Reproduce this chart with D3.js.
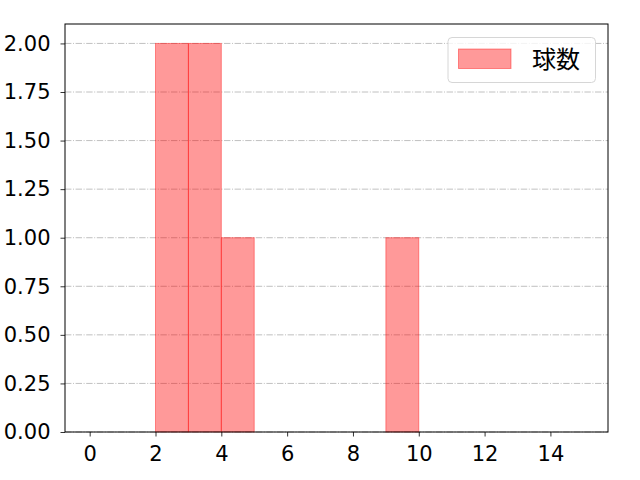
<!DOCTYPE html>
<html>
<head>
<meta charset="utf-8">
<script src="https://cdn.jsdelivr.net/npm/d3@7.9.0/dist/d3.min.js"></script>
<style>
  html, body { margin: 0; padding: 0; background: #fff; }
  svg { display: block; }
  text { font-family: "Noto Sans CJK JP", "Noto Sans", sans-serif; }
</style>
</head>
<body>
<svg id="chart" width="640" height="480"></svg>
<script>
// histogram bins (width 1) and their counts
const binStarts = [0, 1, 2, 3, 4, 5, 6, 7, 8, 9, 10, 11, 12, 13, 14];
const counts = [0, 0, 2, 2, 1, 0, 0, 0, 0, 1, 0, 0, 0, 0, 0];
const xTicks = [0, 2, 4, 6, 8, 10, 12, 14];
const yTicks = [0, 0.25, 0.5, 0.75, 1.0, 1.25, 1.5, 1.75, 2.0];
const seriesName = '球数';

const margin = { top: 24, right: 32, bottom: 48, left: 65 };
const width = 640 - margin.left - margin.right;
const height = 480 - margin.top - margin.bottom;

const svg = d3.select('#chart');
const g = svg.append('g').attr('transform', `translate(${margin.left},${margin.top})`);

const x = d3.scaleLinear().domain([-0.75, 15.75]).range([0, width]);
const y = d3.scaleLinear().domain([0, 2.1]).range([height, 0]);

// grid lines
g.append('g')
  .selectAll('line')
  .data(yTicks)
  .join('line')
  .attr('x1', 0)
  .attr('x2', width)
  .attr('y1', (d) => y(d))
  .attr('y2', (d) => y(d))
  .attr('stroke', '#b0b0b0')
  .attr('stroke-width', 0.8)
  .attr('stroke-dasharray', '6.4,1.6,1,1.6');

const bins = binStarts
  .map((s, i) => ({ x0: s, x1: s + 1, n: counts[i] }))
  .filter((d) => d.n > 0);

g.append('g')
  .selectAll('rect')
  .data(bins)
  .join('rect')
  .attr('x', (d) => x(d.x0))
  .attr('width', (d) => x(d.x1) - x(d.x0))
  .attr('y', (d) => y(d.n))
  .attr('height', (d) => y(0) - y(d.n))
  .attr('fill', 'red')
  .attr('fill-opacity', 0.4)
  .attr('stroke', 'red')
  .attr('stroke-opacity', 0.4)
  .attr('stroke-width', 1);

const xAxis = g.append('g')
  .attr('transform', `translate(0,${height})`)
  .call(d3.axisBottom(x).tickValues(xTicks).tickSize(4.5).tickPadding(9.5).tickFormat(d3.format('d')));
const yAxis = g.append('g')
  .call(d3.axisLeft(y).tickValues(yTicks).tickSize(4.5).tickPadding(10).tickFormat(d3.format('.2f')));

[xAxis, yAxis].forEach((a) => {
  a.select('.domain').remove();
  a.selectAll('.tick line').attr('stroke', '#000').attr('stroke-width', 0.8);
  a.selectAll('.tick text')
    .attr('fill', '#000')
    .style('font-size', '21px')
    .style('font-family', '"DejaVu Sans", sans-serif');
});

// frame
g.append('rect')
  .attr('width', width)
  .attr('height', height)
  .attr('fill', 'none')
  .attr('stroke', '#000')
  .attr('stroke-width', 1);

// legend
const lg = g.append('g').attr('transform', `translate(${width - 160},${13.5})`);
lg.append('rect')
  .attr('width', 147.5)
  .attr('height', 45)
  .attr('rx', 4)
  .attr('fill', '#fff')
  .attr('fill-opacity', 0.8)
  .attr('stroke', '#d6d6d6')
  .attr('stroke-width', 1);
lg.append('rect')
  .attr('x', 10.5)
  .attr('y', 11.5)
  .attr('width', 52.5)
  .attr('height', 19.5)
  .attr('fill', 'red')
  .attr('fill-opacity', 0.4)
  .attr('stroke', 'red')
  .attr('stroke-opacity', 0.4);
lg.append('text')
  .attr('x', 84)
  .attr('y', 22)
  .attr('dy', '0.35em')
  .style('font-size', '24px')
  .text(seriesName);
</script>
</body>
</html>
